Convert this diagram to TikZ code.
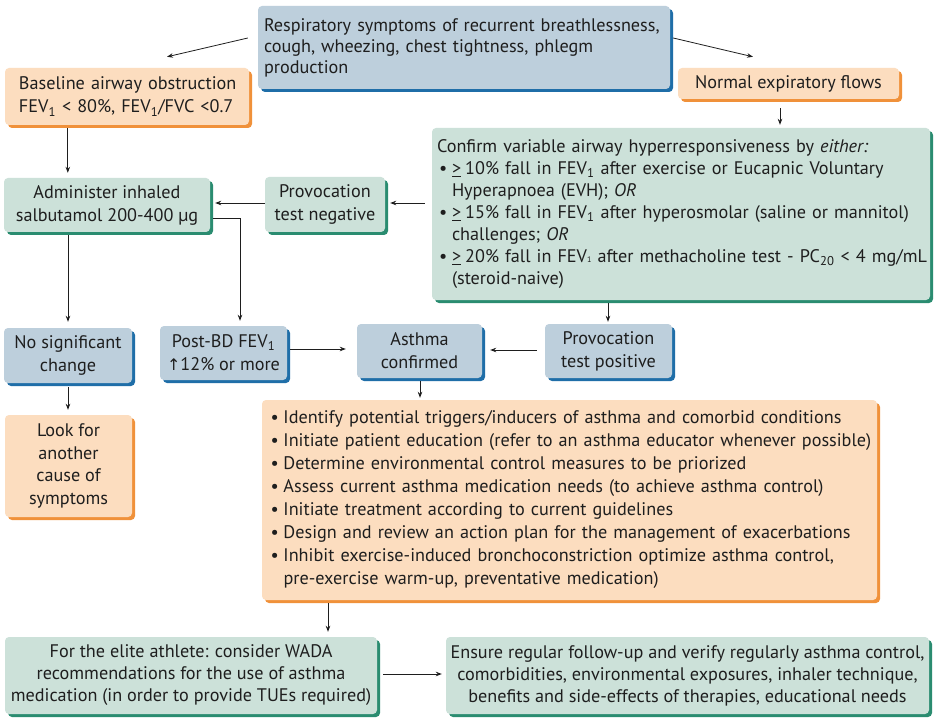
\documentclass[tikz,border=0pt]{standalone}
\usepackage{fontspec}
\setmainfont{PT Sans}
\newfontfamily\dejavu{DejaVu Sans}
\usetikzlibrary{shadows,arrows.meta,calc}
\definecolor{bluefill}{HTML}{BDCFDC}
\definecolor{blueedge}{HTML}{1F6EA8}
\definecolor{orfill}{HTML}{FCDDBF}
\definecolor{oredge}{HTML}{F0913A}
\definecolor{grfill}{HTML}{CCE1D9}
\definecolor{gredge}{HTML}{2A8C70}
\definecolor{txt}{HTML}{1E1E1E}
\newcommand{\bul}{\makebox[15pt][l]{\hspace{2pt}\textbullet}}
\newcommand{\ind}{\makebox[15pt][l]{}}
\newcommand{\ulgt}{\underline{>}\hspace{4pt}}
\newcommand{\myline}[1]{\mbox{#1}}
\tikzset{
  box/.style={rounded corners=4pt, inner sep=0pt, align=center, text=txt,
    font=\fontsize{18.2}{23}\selectfont},
  bluebox/.style={box, fill=bluefill, drop shadow={shadow xshift=3pt, shadow yshift=-3pt, fill=blueedge, opacity=1}},
  orbox/.style={box, fill=orfill, drop shadow={shadow xshift=3pt, shadow yshift=-3pt, fill=oredge, opacity=1}},
  grbox/.style={box, fill=grfill, drop shadow={shadow xshift=3pt, shadow yshift=-3pt, fill=gredge, opacity=1}},
  arr/.style={-{Stealth[length=6pt,width=4.5pt]}, line width=0.8pt, draw=txt}
}
\begin{document}
\begin{tikzpicture}[x=1pt,y=-1pt]
\useasboundingbox[fill=white] (0,0) rectangle (937,722);
% boxes
\node[bluebox, minimum width=412pt, minimum height=83pt, text width=400pt, align=left,
  font=\fontsize{18.2}{21}\selectfont] (top) at (464,47.5)
 {\myline{Respiratory symptoms of recurrent breathlessness,}\\ \myline{cough, wheezing, chest tightness, phlegm}\\ production};
\node[orbox, minimum width=244pt, minimum height=57pt, text width=216pt, align=left] (base) at (127,96.5)
 {\myline{Baseline airway obstruction}\\ \myline{FEV\textsubscript{1} < 80\%, FEV\textsubscript{1}/FVC <0.7}};
\node[orbox, minimum width=221pt, minimum height=31pt] (norm) at (788.5,83.5)
 {Normal expiratory flows};
\node[grbox, minimum width=498pt, minimum height=172pt, text width=488pt, align=left,
  font=\fontsize{18.2}{22}\selectfont] (conf) at (681,214)
 {\myline{Confirm variable airway hyperresponsiveness by \textit{either:}}\\
  \myline{\bul\ulgt10\% fall in FEV\textsubscript{1} after exercise or Eucapnic Voluntary}\\
  \myline{\ind Hyperapnoea (EVH); \textit{OR}}\\
  \myline{\bul\ulgt15\% fall in FEV\textsubscript{1} after hyperosmolar (saline or mannitol)}\\
  \myline{\ind challenges; \textit{OR}}\\
  \myline{\bul\ulgt20\% fall in FEV{\footnotesize 1} after methacholine test - PC\textsubscript{20} < 4 mg/mL}\\
  \myline{\ind (steroid-naive)}};
\node[grbox, minimum width=206pt, minimum height=54pt] (adm) at (107,205)
 {Administer inhaled\\ salbutamol 200-400 µg};
\node[grbox, minimum width=120pt, minimum height=55pt] (pneg) at (325,204.5)
 {Provocation\\ test negative};
\node[bluebox, minimum width=128pt, minimum height=55pt] (nosig) at (68,355.5)
 {No significant\\ change};
\node[bluebox, minimum width=127pt, minimum height=54pt] (post) at (223.5,353)
 {Post-BD FEV\textsubscript{1}\\ {\dejavu\fontsize{16}{23}\selectfont ↑}12\% or more};
\node[bluebox, minimum width=125pt, minimum height=54pt] (asth) at (419.5,351)
 {Asthma\\ confirmed};
\node[bluebox, minimum width=127pt, minimum height=54pt] (ppos) at (608.5,351)
 {Provocation\\ test positive};
\node[orbox, minimum width=127pt, minimum height=102pt, font=\fontsize{18.2}{22.5}\selectfont] (look) at (68.5,466)
 {Look for\\ another\\ cause of\\ symptoms};
\node[orbox, minimum width=615pt, minimum height=200pt, text width=602pt, align=left,
  font=\fontsize{18.2}{23}\selectfont] (mgmt) at (569.5,500)
 {\myline{\bul Identify potential triggers/inducers of asthma and comorbid conditions}\\
  \myline{\bul Initiate patient education (refer to an asthma educator whenever possible)}\\
  \myline{\bul Determine environmental control measures to be priorized}\\
  \myline{\bul Assess current asthma medication needs (to achieve asthma control)}\\
  \myline{\bul Initiate treatment according to current guidelines}\\
  \myline{\bul Design and review an action plan for the management of exacerbations}\\
  \myline{\bul Inhibit exercise-induced bronchoconstriction optimize asthma control,}\\
  \myline{\ind pre-exercise warm-up, preventative medication)}};
\node[grbox, minimum width=372pt, minimum height=77pt, font=\fontsize{18.2}{22}\selectfont] (elite) at (191,675.5)
 {For the elite athlete: consider WADA\\ recommendations for the use of asthma\\ medication (in order to provide TUEs required)};
\node[grbox, minimum width=483pt, minimum height=77pt, font=\fontsize{18.2}{22}\selectfont] (follow) at (687.5,675.5)
 {Ensure regular follow-up and verify regularly asthma control,\\ comorbidities, environmental exposures, inhaler technique,\\ benefits and side-effects of therapies, educational needs};
% connectors
\draw[arr] ($(top.west)+(-10,-9.5)$) -- ($(base.north)+(40,-11)$);
\draw[arr] ($(top.east)+(3,-9.5)$) -- ($(norm.north)+(-35.5,-11)$);
\draw[arr] ($(norm.south)+(-8.5,9)$) -- ($(conf.north)+(99,-3)$);
\draw[arr] ($(base.south west)+(63,3)$) -- ($(adm.north west)+(64,-5)$);
\draw[arr] ($(conf.west)+(-7,-11)$) -- ($(pneg.east)+(5,-1.5)$);
\draw[arr] ($(pneg.west)+(0,-1.5)$) -- ($(adm.east)+(5,-2)$);
\draw[arr] ($(adm.east)+(3,13)$) -| ($(post.north)+(16.5,-5)$);
\draw[arr] ($(adm.south)+(-39,3)$) -- ($(nosig.north)+(0,-6)$);
\draw[arr] ($(nosig.south)+(0,4)$) -- ($(look.north)+(-0.5,-5)$);
\draw[arr] ($(post.east)+(3,-4)$) -- ($(asth.west)+(-11,-2)$);
\draw[arr] ($(ppos.west)+(-8,-1)$) -- ($(asth.east)+(8,-1)$);
\draw[arr] ($(conf.south)+(-73,3)$) -- ($(ppos.north)+(-0.5,-2)$);
\draw[arr] ($(asth.south)+(0.5,3)$) -- ($(mgmt.north)+(-149.5,-2)$);
\draw[arr] ($(mgmt.south)+(-241.5,3)$) -- ($(elite.north)+(137,-5)$);
\draw[arr] ($(elite.east)+(6,-1.5)$) -- ($(follow.west)+(-4,-1.5)$);
\end{tikzpicture}
\end{document}
